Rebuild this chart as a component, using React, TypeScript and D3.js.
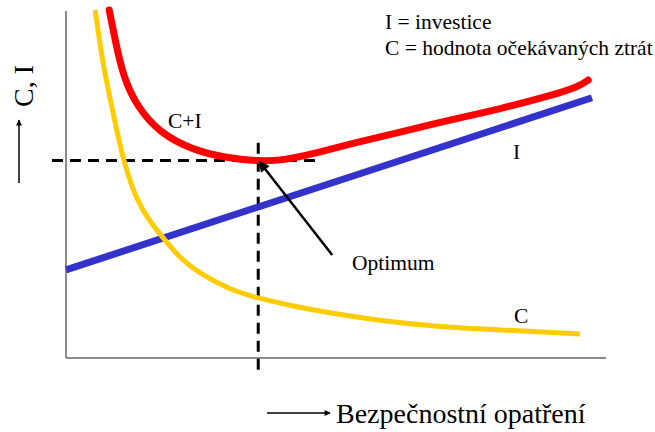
import React from "react";
import * as d3 from "d3";

// data units: x 0..10 (Bezpečnostní opatření), y 0..10 (C, I)
const costC: [number, number][] = [
  [0.54, 10.03], [0.67, 8.59], [0.82, 7.44], [0.94, 6.57], [1.06, 5.71], [1.3, 4.55],
  [1.56, 3.92], [1.8, 3.46], [2.11, 2.88], [2.43, 2.48], [3.04, 1.96], [3.54, 1.73],
  [4.28, 1.47], [4.89, 1.3], [5.82, 1.07], [6.93, 0.89], [8.04, 0.81], [9.52, 0.69],
];
const totalCI: [number, number][] = [
  [0.8, 10.03], [0.91, 9.16], [1.06, 8.1], [1.32, 7.23], [1.74, 6.48], [2.35, 5.99],
  [2.98, 5.76], [3.56, 5.67], [4.02, 5.69], [4.65, 5.91], [5.26, 6.17], [6.19, 6.51],
  [7.11, 6.86], [8.04, 7.18], [8.96, 7.55], [9.52, 7.84], [9.67, 8.01],
];
const investI: [number, number][] = [[0, 2.54], [9.74, 7.5]];
const optimum: [number, number] = [3.56, 5.69];
const optimumLabelAt: [number, number] = [4.93, 2.97];

const W = 655, H = 432;
const x = d3.scaleLinear().domain([0, 10]).range([66, 606]);
const y = d3.scaleLinear().domain([0, 10]).range([358, 11]);
const line = d3.line<[number, number]>().x(d => x(d[0])).y(d => y(d[1])).curve(d3.curveBasis);
const straight = d3.line<[number, number]>().x(d => x(d[0])).y(d => y(d[1]));

const serif = "'Liberation Serif', 'Times New Roman', Times, serif";

export default function App() {
  const ox = x(optimum[0]), oy = y(optimum[1]);
  const lx = x(optimumLabelAt[0]), ly = y(optimumLabelAt[1]);
  return (
    <svg width={W} height={H} style={{ position: "absolute", left: 0, top: 0, background: "#fff", fontFamily: serif }}>
      <defs>
        <marker id="ah" viewBox="0 0 10 10" refX="9" refY="5" markerWidth="14" markerHeight="11" orient="auto" markerUnits="userSpaceOnUse">
          <path d="M0,0 L10,5 L0,10 z" fill="#000" />
        </marker>
        <marker id="ah2" viewBox="0 0 10 10" refX="9" refY="5" markerWidth="8" markerHeight="6" orient="auto" markerUnits="userSpaceOnUse">
          <path d="M0,0 L10,5 L0,10 z" fill="#000" />
        </marker>
      </defs>
      {/* axes */}
      <line x1={x(0)} y1={y(10)} x2={x(0)} y2={y(0)} stroke="#666" strokeWidth={1.5} />
      <line x1={x(0)} y1={y(0)} x2={x(10)} y2={y(0)} stroke="#666" strokeWidth={1.5} />
      {/* dashed guides */}
      <line x1={x(-0.26)} y1={oy} x2={x(4.72)} y2={oy} stroke="#000" strokeWidth={3} strokeDasharray="11 7" />
      <line x1={ox} y1={y(6.2)} x2={ox} y2={y(-0.35)} stroke="#000" strokeWidth={3} strokeDasharray="11 7" />
      {/* curves */}
      <path d={straight(investI)!} fill="none" stroke="#3333cc" strokeWidth={7} />
      <path d={line(costC)!} fill="none" stroke="#ffcc00" strokeWidth={5} />
      <path d={line(totalCI)!} fill="none" stroke="#ff0000" strokeWidth={7} strokeLinecap="round" />
      {/* optimum arrow */}
      <line x1={lx} y1={ly} x2={ox + 1} y2={oy + 1} stroke="#000" strokeWidth={2.5} markerEnd="url(#ah)" />
      {/* labels */}
      <text x={168} y={128} fontSize={21.5}>C+I</text>
      <text x={513} y={159} fontSize={21.5}>I</text>
      <text x={514} y={323} fontSize={21.5}>C</text>
      <text x={352} y={270} fontSize={21.5}>Optimum</text>
      <text x={385} y={29} fontSize={21.5}>I = investice</text>
      <text x={385} y={55} fontSize={21.5}>C = hodnota očekávaných ztrát</text>
      {/* y axis title */}
      <line x1={19} y1={183} x2={19} y2={120} stroke="#000" strokeWidth={1.5} markerEnd="url(#ah2)" />
      <text transform="translate(33,107) rotate(-90)" fontSize={28}>C, I</text>
      {/* x axis title */}
      <line x1={267} y1={413} x2={330} y2={413} stroke="#000" strokeWidth={1.5} markerEnd="url(#ah2)" />
      <text x={336} y={423} fontSize={28}>Bezpečnostní opatření</text>
    </svg>
  );
}
